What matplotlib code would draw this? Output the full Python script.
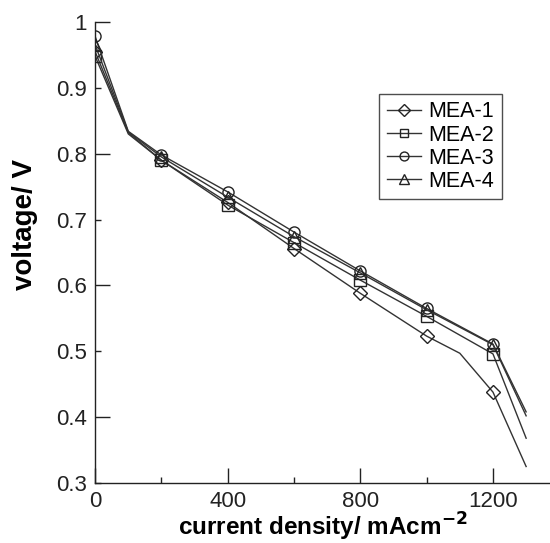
import matplotlib
matplotlib.use("Agg")
import matplotlib.pyplot as plt
from matplotlib.ticker import MultipleLocator

plt.rcParams['font.family'] = ['Liberation Sans', 'DejaVu Sans']

# data (current density mA/cm^2, voltage V)
x1 = [0, 100, 200, 400, 600, 800, 1000, 1100, 1200, 1300]
v1 = [0.955, 0.832, 0.790, 0.726, 0.656, 0.588, 0.523, 0.497, 0.438, 0.325]
m1 = [0, 2, 3, 4, 5, 6, 8]

x2 = [0, 100, 200, 400, 600, 800, 1000, 1200, 1300]
v2 = [0.948, 0.830, 0.790, 0.722, 0.665, 0.608, 0.553, 0.496, 0.368]
m2 = [0, 2, 3, 4, 5, 6, 7]

x3 = [0, 100, 200, 400, 600, 800, 1000, 1200, 1300]
v3 = [0.978, 0.834, 0.798, 0.742, 0.681, 0.622, 0.565, 0.511, 0.408]
m3 = [0, 2, 3, 4, 5, 6, 7]

x4 = [0, 100, 200, 400, 600, 800, 1000, 1200, 1300]
v4 = [0.965, 0.833, 0.795, 0.734, 0.674, 0.619, 0.563, 0.510, 0.402]
m4 = [0, 2, 3, 4, 5, 6, 7]

labels = ['MEA-1', 'MEA-2', 'MEA-3', 'MEA-4']
markers = ['D', 's', 'o', '^']
msizes = [7.5, 8, 8, 8.5]

yticks = [0.3, 0.4, 0.5, 0.6, 0.7, 0.8, 0.9, 1.0]
yticklabels = ['0.3', '0.4', '0.5', '0.6', '0.7', '0.8', '0.9', '1']

fig = plt.figure(figsize=(5.5, 5.43), dpi=100)
ax = fig.add_axes([0.173, 0.1105, 0.827, 0.849])

series = [(x1, v1, m1), (x2, v2, m2), (x3, v3, m3), (x4, v4, m4)]
for (xs, vs, me), lab, mk, ms in zip(series, labels, markers, msizes):
    ax.plot(xs, vs, color='#333333', lw=1.0, marker=mk, markevery=me,
            markersize=ms, markerfacecolor='none', markeredgecolor='#222222',
            markeredgewidth=1.0, label=lab)

ax.set_xlim(0, 1372)
ax.set_ylim(0.3, 1.0)
ax.xaxis.set_major_locator(MultipleLocator(400))
ax.xaxis.set_minor_locator(MultipleLocator(200))
ax.set_yticks(yticks)
ax.set_yticklabels(yticklabels)

ax.spines['top'].set_visible(False)
ax.spines['right'].set_visible(False)
for s in ['left', 'bottom']:
    ax.spines[s].set_linewidth(1.0)
    ax.spines[s].set_color('#222222')

ax.tick_params(axis='both', which='major', direction='in', length=11, width=1.0,
               labelsize=16, colors='#222222', pad=6)
ax.tick_params(axis='x', which='minor', direction='in', length=4.5, width=1.0, colors='#222222')
for t, v in zip(ax.yaxis.get_major_ticks(), yticks):
    if round(v * 10) % 2 == 1:
        t.tick1line.set_markersize(4.5)

ax.set_xlabel('current density/ mAcm$^{\\mathbf{-2}}$', fontsize=17.5, fontweight='bold', labelpad=-1)
ax.set_ylabel('voltage/ V', fontsize=20, fontweight='bold')
ax.yaxis.set_label_coords(-0.125, 0.56)

leg = ax.legend(loc='upper left', bbox_to_anchor=(0.624, 0.844), borderaxespad=0,
                fontsize=15.5, frameon=True, fancybox=False, edgecolor='#222222',
                handlelength=1.6, handletextpad=0.35, borderpad=0.35, labelspacing=0.1,
                markerscale=0.8)
leg.get_frame().set_linewidth(1.0)

fig.savefig('out.png', dpi=100)
